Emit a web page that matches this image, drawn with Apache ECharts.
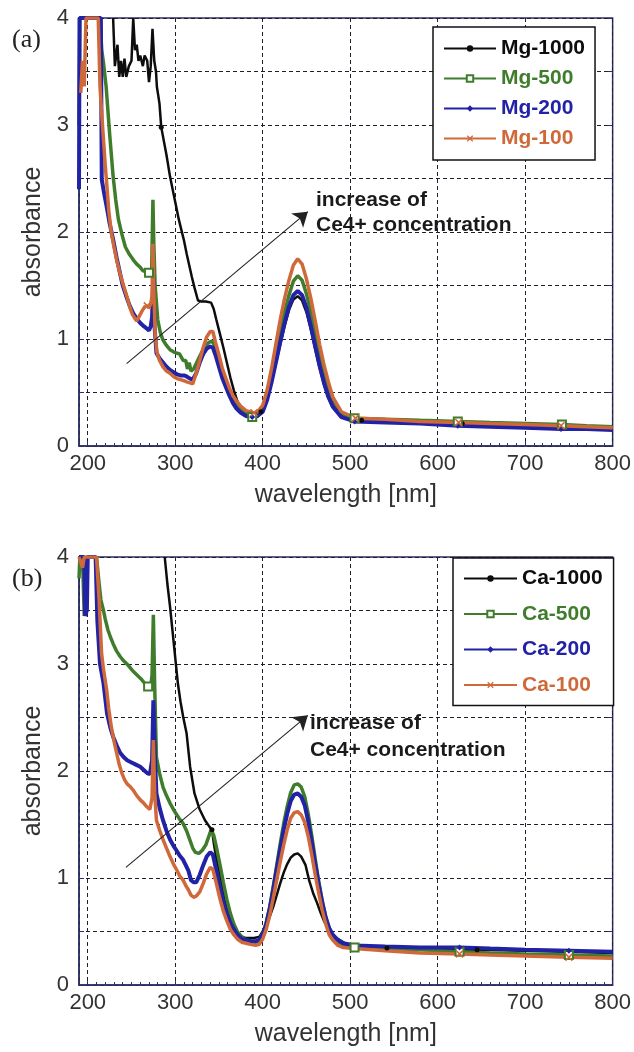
<!DOCTYPE html>
<html>
<head>
<meta charset="utf-8">
<script src="https://cdn.jsdelivr.net/npm/echarts@6/dist/echarts.min.js"></script>
<style>
  html, body { margin: 0; padding: 0; background: #fff; }
  #chart { width: 634px; height: 1052px; }
</style>
</head>
<body>
<div id="chart"></div>
<script>
// UV-vis absorbance spectra, [wavelength nm, absorbance]
const mg1000 = [[229,4.0],[231,3.55],[234,3.75],[236,3.45],[238,3.6],[240,3.45],[242,3.62],[244,3.45],[247,3.55],[250,3.6],[252,4.0],[254,3.7],[256,3.75],[258,3.6],[260,3.65],[263,3.55],[265,3.65],[268,3.6],[270,3.4],[272,3.55],[274,3.9],[276,3.6],[278,3.5],[279,3.36],[282,3.2],[284,2.98],[290,2.72],[294,2.52],[298,2.36],[301,2.24],[304,2.12],[307,2.02],[310,1.92],[313,1.80],[316,1.69],[319,1.58],[322,1.48],[326,1.36],[330,1.35],[335,1.35],[341,1.34],[344,1.28],[347,1.18],[351,1.05],[355,0.92],[359,0.78],[363,0.64],[367,0.52],[371,0.42],[376,0.35],[381,0.31],[386,0.30],[391,0.30],[398,0.32],[400,0.35],[405,0.45],[410,0.60],[415,0.77],[420,0.95],[425,1.12],[430,1.27],[435,1.37],[440,1.40],[445,1.36],[450,1.25],[455,1.09],[460,0.91],[465,0.73],[470,0.58],[475,0.45],[480,0.36],[490,0.27],[500,0.25],[513,0.24],[540,0.23],[570,0.22],[600,0.21],[628,0.21],[660,0.20],[700,0.19],[743,0.18],[770,0.17],[800,0.16]];

const mg500 = [[190,3.0],[191,4.0],[214,4.0],[216,3.7],[218,3.58],[221,3.36],[225,2.92],[229,2.52],[232,2.30],[235,2.12],[239,1.98],[243,1.86],[247,1.80],[252,1.74],[256,1.70],[260,1.67],[263,1.64],[266,1.63],[270,1.62],[273,1.63],[274.5,2.30],[275.5,1.90],[277,1.50],[280,1.18],[283,1.06],[286,0.99],[290,0.94],[294,0.90],[298,0.88],[301,0.87],[305,0.86],[309,0.80],[312,0.80],[314,0.72],[316,0.78],[318,0.70],[321,0.72],[324,0.77],[328,0.84],[332,0.90],[336,0.95],[339,0.97],[342,0.98],[345,0.94],[348,0.86],[352,0.74],[356,0.64],[360,0.55],[365,0.46],[370,0.38],[375,0.33],[381,0.30],[388,0.27],[394,0.28],[400,0.33],[405,0.46],[410,0.64],[415,0.85],[420,1.06],[425,1.25],[430,1.41],[435,1.54],[440,1.59],[445,1.55],[450,1.42],[455,1.25],[460,1.05],[465,0.85],[470,0.67],[475,0.52],[480,0.41],[490,0.29],[505,0.26],[540,0.25],[580,0.24],[623,0.23],[660,0.22],[700,0.21],[742,0.20],[770,0.19],[800,0.18]];

const mg200 = [[190,2.40],[190.6,4.0],[215,4.0],[216,2.49],[219,2.35],[222,2.22],[225,2.08],[229,1.93],[233,1.76],[237,1.61],[240,1.50],[244,1.40],[248,1.31],[252,1.24],[256,1.19],[260,1.15],[264,1.12],[267,1.10],[270,1.08],[272,1.12],[273.5,1.20],[275,1.60],[276.5,1.10],[278.5,0.87],[282,0.82],[286,0.78],[290,0.74],[294,0.71],[298,0.69],[302,0.67],[306,0.66],[310,0.66],[313,0.65],[317,0.63],[320,0.62],[324,0.68],[328,0.78],[332,0.86],[336,0.91],[340,0.93],[343,0.92],[346,0.85],[350,0.74],[354,0.63],[358,0.55],[362,0.47],[366,0.40],[370,0.35],[375,0.31],[381,0.28],[388,0.27],[394,0.28],[400,0.32],[405,0.43],[410,0.59],[415,0.78],[420,0.97],[425,1.15],[430,1.30],[435,1.41],[440,1.45],[445,1.41],[450,1.29],[455,1.12],[460,0.93],[465,0.75],[470,0.59],[475,0.46],[480,0.37],[490,0.27],[505,0.23],[540,0.22],[580,0.21],[623,0.19],[660,0.18],[700,0.17],[741,0.16],[770,0.16],[800,0.15]];

const mg100 = [[192,3.3],[194,3.6],[196,3.36],[198,4.0],[212,4.0],[214,3.36],[216,3.10],[218,2.86],[220,2.62],[222,2.42],[224,2.20],[227,1.99],[230,1.86],[233,1.74],[236,1.64],[239,1.55],[242,1.47],[245,1.39],[248,1.30],[251,1.23],[254,1.19],[256,1.17],[258,1.20],[260,1.23],[262,1.26],[265,1.30],[268,1.31],[270,1.29],[272,1.33],[273.5,1.40],[274.5,1.89],[275.5,1.50],[277,1.05],[279,0.88],[282,0.80],[286,0.74],[290,0.70],[294,0.68],[298,0.65],[302,0.63],[306,0.62],[310,0.61],[313,0.60],[317,0.59],[320,0.58],[324,0.68],[328,0.80],[332,0.92],[336,1.02],[340,1.07],[343,1.07],[346,0.97],[350,0.85],[354,0.72],[358,0.63],[362,0.54],[366,0.47],[370,0.42],[375,0.37],[381,0.33],[390,0.31],[394,0.32],[400,0.38],[405,0.52],[410,0.72],[415,0.95],[420,1.18],[425,1.38],[430,1.55],[435,1.69],[440,1.75],[445,1.70],[450,1.56],[455,1.38],[460,1.17],[465,0.95],[470,0.76],[475,0.60],[480,0.46],[490,0.32],[506,0.26],[540,0.25],[580,0.23],[624,0.22],[660,0.21],[700,0.20],[741,0.19],[770,0.18],[800,0.17]];

const ca1000 = [[288,4.0],[291,3.75],[294,3.54],[298,3.22],[303,2.82],[306,2.65],[309,2.51],[313,2.35],[317,2.04],[322,1.79],[328,1.64],[334,1.54],[339,1.48],[342,1.45],[344,1.33],[347,1.18],[351,1.04],[355,0.88],[358,0.76],[362,0.66],[366,0.58],[370,0.51],[374,0.46],[380,0.44],[385,0.44],[390,0.44],[396,0.45],[400,0.50],[404,0.55],[408,0.64],[412,0.73],[416,0.84],[420,0.95],[424,1.05],[428,1.13],[432,1.19],[436,1.22],[440,1.23],[444,1.20],[449,1.12],[453,0.98],[458,0.85],[462,0.77],[466,0.68],[470,0.60],[476,0.51],[482,0.45],[488,0.42],[494,0.39],[500,0.37],[542,0.345],[600,0.335],[645,0.33],[700,0.32],[748,0.31],[800,0.30]];

const ca500 = [[190,3.8],[191,4.0],[194,4.0],[196,3.45],[197,3.45],[198,4.0],[210,4.0],[213,3.75],[215,3.60],[218,3.50],[220,3.42],[223,3.32],[226,3.25],[229,3.19],[233,3.12],[237,3.07],[241,3.03],[246,2.99],[251,2.94],[256,2.90],[261,2.86],[265,2.82],[269,2.79],[272,2.79],[273.5,2.90],[275,3.46],[276.5,2.80],[278.5,2.13],[282,1.98],[286,1.85],[290,1.77],[294,1.70],[298,1.64],[301,1.60],[305,1.55],[309,1.51],[313,1.44],[317,1.35],[320,1.28],[323,1.24],[327,1.23],[331,1.26],[335,1.31],[338,1.38],[341,1.45],[344,1.40],[347,1.29],[351,1.13],[355,0.96],[359,0.80],[363,0.67],[367,0.57],[371,0.50],[376,0.45],[381,0.42],[386,0.41],[392,0.40],[396,0.42],[400,0.48],[404,0.58],[408,0.73],[412,0.92],[416,1.12],[420,1.32],[424,1.51],[428,1.67],[432,1.80],[436,1.87],[440,1.88],[444,1.85],[448,1.76],[452,1.60],[456,1.40],[460,1.18],[464,0.97],[468,0.79],[472,0.64],[476,0.53],[480,0.46],[486,0.40],[492,0.37],[505,0.35],[540,0.34],[580,0.33],[625,0.31],[660,0.30],[700,0.29],[750,0.28],[800,0.27]];

const ca200 = [[190,4.0],[196,4.0],[197,3.45],[199,3.5],[200,4.0],[209,4.0],[211,3.40],[214,3.00],[218,2.82],[222,2.54],[226,2.40],[229,2.32],[233,2.24],[237,2.17],[241,2.13],[245,2.10],[250,2.08],[255,2.06],[260,2.04],[264,2.01],[268,1.98],[271,1.97],[273.5,2.10],[275,2.66],[276.5,2.20],[278.5,1.79],[282,1.66],[286,1.54],[290,1.44],[294,1.36],[298,1.30],[302,1.25],[305,1.21],[309,1.17],[312,1.12],[315,1.07],[318,0.98],[321,0.96],[324,0.96],[328,1.03],[332,1.12],[336,1.20],[340,1.24],[343,1.22],[347,1.07],[351,0.92],[355,0.78],[359,0.67],[363,0.58],[367,0.52],[371,0.47],[376,0.43],[381,0.42],[386,0.41],[392,0.41],[396,0.42],[400,0.47],[404,0.57],[408,0.71],[412,0.89],[416,1.08],[420,1.27],[424,1.45],[428,1.60],[432,1.72],[436,1.78],[440,1.79],[444,1.76],[448,1.68],[452,1.53],[456,1.34],[460,1.13],[464,0.94],[468,0.77],[472,0.63],[476,0.53],[480,0.47],[486,0.42],[492,0.39],[505,0.37],[540,0.36],[580,0.35],[625,0.35],[660,0.34],[700,0.33],[750,0.32],[800,0.31]];

const ca100 = [[190,4.0],[192,3.95],[194,3.90],[196,4.0],[210,4.0],[213,3.60],[215.8,3.10],[218,2.95],[221.6,2.76],[224,2.58],[227,2.41],[230,2.28],[233,2.17],[236,2.06],[239,1.98],[242,1.92],[245,1.88],[249,1.85],[252,1.82],[256,1.77],[260,1.73],[264,1.70],[267,1.67],[271,1.64],[273.5,1.75],[275,2.29],[276.5,1.80],[278.5,1.54],[282,1.45],[286,1.36],[290,1.28],[294,1.20],[298,1.13],[302,1.07],[305,1.02],[309,0.98],[312,0.93],[315,0.89],[318,0.84],[321,0.82],[324,0.83],[328,0.87],[332,0.95],[336,1.04],[340,1.10],[343,1.08],[347,0.95],[351,0.81],[355,0.69],[359,0.60],[363,0.52],[367,0.47],[371,0.43],[376,0.40],[381,0.39],[386,0.38],[392,0.37],[396,0.38],[400,0.43],[404,0.52],[408,0.65],[412,0.81],[416,0.98],[420,1.15],[424,1.31],[428,1.45],[432,1.56],[436,1.61],[440,1.62],[444,1.59],[448,1.52],[452,1.39],[456,1.22],[460,1.03],[464,0.86],[468,0.70],[472,0.57],[476,0.47],[480,0.42],[486,0.37],[492,0.35],[505,0.34],[540,0.32],[580,0.30],[625,0.29],[660,0.28],[700,0.27],[750,0.26],[800,0.25]];

// wavelengths where a series shows its marker
const marksMg1000 = [284, 398, 513, 628, 743];
const marksMg500 = [270, 388, 505, 623, 742];
const marksMg200 = [388, 505, 623, 741];
const marksMg100 = [268, 390, 506, 624, 741];
const marksCa1000 = [342, 542, 645, 748];
const marksCa500 = [269, 505, 625, 750];
const marksCa200 = [625, 750];
const marksCa100 = [625, 750];

// annotation arrows, [wavelength, absorbance] of tail and head
const arrowA = [[244.4, 0.77], [451.6, 2.19]];
const arrowB = [[243.6, 1.10], [451.6, 2.52]];

const xRange = [190, 800];
const yRange = [0, 4];
const yStep = 0.5;

const SANS = "'Liberation Sans', Arial, Helvetica, sans-serif";
const SERIF = "'Liberation Serif', 'Times New Roman', serif";
const FRAME = '#2e2e66';
const GRIDLINE = '#1e1e2e';
const COLORS = { k: '#0d0d0d', g: '#3f7d2c', b: '#2222a6', o: '#d0693a' };
const CROSS = 'path://M0,1.4L1.4,0L5,3.6L8.6,0L10,1.4L6.4,5L10,8.6L8.6,10L5,6.4L1.4,10L0,8.6L3.6,5Z';

function lineSeries(name, pts, marks, color, width, symbol, size, panel, arrow) {
  const s = {
    name, type: 'line',
    xAxisIndex: panel * 2, yAxisIndex: panel * 2,
    symbol, symbolSize: size, showSymbol: true, showAllSymbol: true,
    lineStyle: { color, width },
    itemStyle: { color, borderWidth: 1.5 },
    emphasis: { disabled: true },
    silent: true, animation: false, z: 3,
    data: pts.map(([x, y]) => marks.indexOf(x) >= 0
      ? { value: [x, y], symbol, symbolSize: size }
      : { value: [x, y], symbol: 'none' })
  };
  if (arrow) {
    s.markLine = {
      silent: true, animation: false,
      symbol: ['none', 'arrow'], symbolSize: 14,
      lineStyle: { color: '#222', width: 1.1, type: 'solid' },
      label: { show: false },
      data: [[{ coord: arrow[0] }, { coord: arrow[1] }]]
    };
  }
  return s;
}

function mainX(grid) {
  return {
    gridIndex: grid, type: 'value', min: xRange[0], max: xRange[1], position: 'bottom',
    axisLine: { show: true, lineStyle: { color: FRAME, width: 1.5 } },
    axisTick: { show: true, inside: true, length: 5, lineStyle: { color: FRAME } },
    axisLabel: { showMinLabel: false, fontSize: 22, color: '#333', margin: 7, fontFamily: SANS },
    splitLine: { show: true, lineStyle: { color: GRIDLINE, width: 1, type: [4, 3] } },
    name: 'wavelength [nm]', nameLocation: 'middle', nameGap: 37,
    nameTextStyle: { fontSize: 25, color: '#333', fontFamily: SANS }
  };
}
function minorX(grid) {
  return {
    gridIndex: grid, type: 'value', min: xRange[0], max: xRange[1], interval: 10, position: 'bottom',
    axisLine: { show: false },
    axisTick: { show: true, inside: true, length: 3, lineStyle: { color: FRAME } },
    axisLabel: { show: false }, splitLine: { show: false }
  };
}
function leftY(grid) {
  return {
    gridIndex: grid, type: 'value', min: yRange[0], max: yRange[1], interval: yStep, position: 'left',
    axisLine: { show: true, lineStyle: { color: FRAME, width: 1.5 } },
    axisTick: { show: true, inside: true, length: 5, lineStyle: { color: FRAME } },
    axisLabel: { fontSize: 22, color: '#333', margin: 10, fontFamily: SANS,
      formatter: v => (Math.abs(v - Math.round(v)) < 1e-9 ? String(Math.round(v)) : '') },
    splitLine: { show: true, lineStyle: { color: GRIDLINE, width: 1, type: [4, 3] } },
    name: 'absorbance', nameLocation: 'middle', nameGap: 32, nameRotate: 90,
    nameTextStyle: { fontSize: 25, color: '#333', fontFamily: SANS }
  };
}
function rightY(grid) {
  return {
    gridIndex: grid, type: 'value', min: yRange[0], max: yRange[1], interval: yStep, position: 'right',
    axisLine: { show: false },
    axisTick: { show: true, inside: true, length: 5, lineStyle: { color: FRAME } },
    axisLabel: { show: false }, splitLine: { show: false }
  };
}
function legendBox(names, colors, left, top, padding, gap, width) {
  return {
    data: names.map((n, i) => ({ name: n, textStyle: { color: colors[i] } })),
    orient: 'vertical', left, top, padding, itemGap: gap,
    itemWidth: width, itemHeight: 8,
    backgroundColor: '#fff', borderColor: '#111', borderWidth: 1.5, borderRadius: 0,
    selectedMode: false, z: 10,
    textStyle: { fontSize: 21, fontWeight: 'bold', fontFamily: SANS, lineHeight: 21 }
  };
}
function note(x, y, text, font) {
  return { type: 'text', left: x, top: y, silent: true, z: 20,
    style: { text, font, fill: '#1a1a1a', textVerticalAlign: 'middle' } };
}

const chart = echarts.init(document.getElementById('chart'), null, { renderer: 'canvas' });
const colorList = [COLORS.k, COLORS.g, COLORS.b, COLORS.o];

chart.setOption({
  animation: false,
  backgroundColor: '#fff',
  grid: [
    { left: 79, top: 18, width: 534, height: 428, show: true, borderColor: FRAME, borderWidth: 1.5, backgroundColor: '#fff' },
    { left: 79, top: 557, width: 534, height: 428, show: true, borderColor: FRAME, borderWidth: 1.5, backgroundColor: '#fff' }
  ],
  xAxis: [mainX(0), minorX(0), mainX(1), minorX(1)],
  yAxis: [leftY(0), rightY(0), leftY(1), rightY(1)],
  legend: [
    legendBox(['Mg-1000', 'Mg-500', 'Mg-200', 'Mg-100'], colorList, 433, 27, [11, 10, 11, 10], 9, 52),
    legendBox(['Ca-1000', 'Ca-500', 'Ca-200', 'Ca-100'], colorList, 453, 558, [10, 11, 10, 10], 14.5, 53)
  ],
  graphic: [
    { type: 'text', left: 12, top: 27, silent: true,
      style: { text: '(a)', font: '26px ' + SERIF, fill: '#222', textVerticalAlign: 'middle' } },
    { type: 'text', left: 12, top: 566, silent: true,
      style: { text: '(b)', font: '26px ' + SERIF, fill: '#222', textVerticalAlign: 'middle' } },
    note(316, 190, 'increase of', 'bold 21px ' + SANS),
    note(316, 215, 'Ce4+ concentration', 'bold 21px ' + SANS),
    note(310, 713, 'increase of', 'bold 21px ' + SANS),
    note(310, 740, 'Ce4+ concentration', 'bold 21px ' + SANS)
  ],
  series: [
    lineSeries('Mg-1000', mg1000, marksMg1000, COLORS.k, 2.5, 'circle', 5, 0, arrowA),
    lineSeries('Mg-500', mg500, marksMg500, COLORS.g, 3.5, 'emptyRect', 8, 0),
    lineSeries('Mg-200', mg200, marksMg200, COLORS.b, 4, 'diamond', 6, 0),
    lineSeries('Mg-100', mg100, marksMg100, COLORS.o, 3.5, CROSS, 8, 0),
    lineSeries('Ca-1000', ca1000, marksCa1000, COLORS.k, 2.5, 'circle', 5, 1, arrowB),
    lineSeries('Ca-500', ca500, marksCa500, COLORS.g, 3.5, 'emptyRect', 8, 1),
    lineSeries('Ca-200', ca200, marksCa200, COLORS.b, 4, 'diamond', 6, 1),
    lineSeries('Ca-100', ca100, marksCa100, COLORS.o, 3.5, CROSS, 8, 1)
  ]
});
</script>
</body>
</html>
